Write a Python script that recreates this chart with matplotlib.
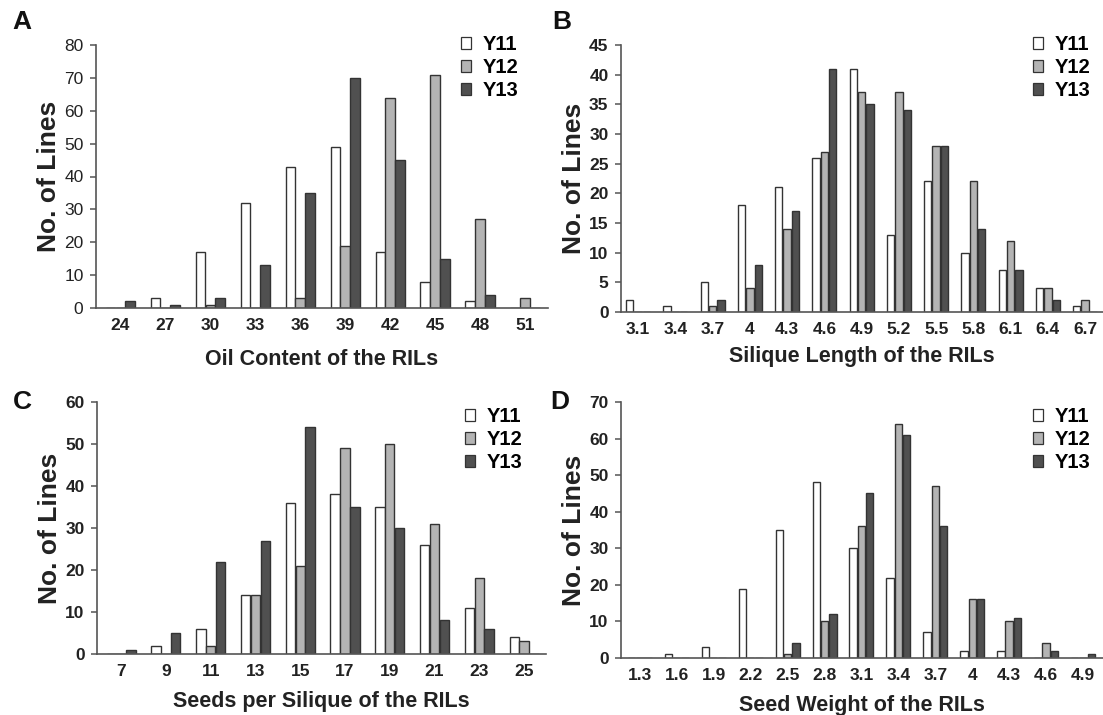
import numpy as np
import matplotlib
matplotlib.use("Agg")
import matplotlib.pyplot as plt
from matplotlib.patches import Patch

plt.rcParams['font.family'] = ['Liberation Sans', 'DejaVu Sans']

# --- data ---
oil_cats = ['24', '27', '30', '33', '36', '39', '42', '45', '48', '51']
oil_y11 = [0, 3, 17, 32, 43, 49, 17, 8, 2, 0]
oil_y12 = [0, 0, 1, 0, 3, 19, 64, 71, 27, 3]
oil_y13 = [2, 1, 3, 13, 35, 70, 45, 15, 4, 0]

len_cats = ['3.1', '3.4', '3.7', '4', '4.3', '4.6', '4.9', '5.2', '5.5', '5.8', '6.1', '6.4', '6.7']
len_y11 = [2, 1, 5, 18, 21, 26, 41, 13, 22, 10, 7, 4, 1]
len_y12 = [0, 0, 1, 4, 14, 27, 37, 37, 28, 22, 12, 4, 2]
len_y13 = [0, 0, 2, 8, 17, 41, 35, 34, 28, 14, 7, 2, 0]

seed_cats = ['7', '9', '11', '13', '15', '17', '19', '21', '23', '25']
seed_y11 = [0, 2, 6, 14, 36, 38, 35, 26, 11, 4]
seed_y12 = [0, 0, 2, 14, 21, 49, 50, 31, 18, 3]
seed_y13 = [1, 5, 22, 27, 54, 35, 30, 8, 6, 0]

wt_cats = ['1.3', '1.6', '1.9', '2.2', '2.5', '2.8', '3.1', '3.4', '3.7', '4', '4.3', '4.6', '4.9']
wt_y11 = [0, 1, 3, 19, 35, 48, 30, 22, 7, 2, 2, 0, 0]
wt_y12 = [0, 0, 0, 0, 1, 10, 36, 64, 47, 16, 10, 4, 0]
wt_y13 = [0, 0, 0, 0, 4, 12, 45, 61, 36, 16, 11, 2, 1]

series_names = ['Y11', 'Y12', 'Y13']
colors = ['white', '#b4b4b4', '#505050']
EDGE = '#333333'

W, H = 1103, 715
fig = plt.figure(figsize=(W / 100, H / 100), dpi=100)


def px_axes(left, right, top, bottom):
    return fig.add_axes([left / W, 1 - bottom / H, (right - left) / W, (bottom - top) / H])


def panel(ax, cats, vals, ymax, ystep, xlim, xlabel, letter, letter_xy, leg_xy,
          width, offset, ybold=True, xpad=9):
    x = np.arange(len(cats))
    for i, v in enumerate(vals):
        ax.bar(x + (i - 1) * offset, v, width, color=colors[i], edgecolor=EDGE,
               linewidth=1.0, zorder=2)
    ax.set_xlim(*xlim)
    ax.set_ylim(0, ymax)
    ax.set_yticks(np.arange(0, ymax + 1, ystep))
    ax.set_xticks(x)
    ax.set_xticklabels(cats)
    for s in ['top', 'right']:
        ax.spines[s].set_visible(False)
    for s in ['left', 'bottom']:
        ax.spines[s].set_color('#555555')
        ax.spines[s].set_linewidth(1.2)
    ax.tick_params(axis='x', length=0, pad=7, labelsize=12.5, labelcolor='#222222')
    ax.tick_params(axis='y', length=4, width=1.1, color='#555555', pad=5,
                   labelsize=12.5, labelcolor='#222222')
    for t in ax.get_xticklabels():
        t.set_fontweight('bold')
    for t in ax.get_yticklabels():
        t.set_fontweight('bold' if ybold else 'normal')
    ax.set_ylabel('No. of Lines', fontsize=19, fontweight='bold', color='#222222', labelpad=2)
    ax.set_xlabel(xlabel, fontsize=15.5, fontweight='bold', color='#222222', labelpad=xpad)
    fig.text(letter_xy[0] / W, 1 - letter_xy[1] / H, letter, fontsize=19,
             fontweight='bold', ha='center', va='center', color='#111111')
    handles = [Patch(facecolor=colors[i], edgecolor=EDGE, linewidth=0.9)
               for i in range(3)]
    fig.legend(handles, series_names, loc='upper left',
               bbox_to_anchor=(leg_xy[0] / W, 1 - leg_xy[1] / H),
               frameon=False, borderpad=0, handlelength=0.5, handleheight=0.5,
               handletextpad=0.55, labelspacing=0.2,
               prop={'size': 14.5, 'weight': 'bold'})


axA = px_axes(96, 548, 45, 308)
panel(axA, oil_cats, [oil_y11, oil_y12, oil_y13], 80, 10, (-0.54, 9.51),
      'Oil Content of the RILs', 'A', (22, 22), (451, 25), 0.21, 0.22,
      ybold=False, xpad=12)

axB = px_axes(621, 1103, 45, 312)
panel(axB, len_cats, [len_y11, len_y12, len_y13], 45, 5, (-0.46, 12.48),
      'Silique Length of the RILs', 'B', (562, 22), (1023, 25), 0.2, 0.225,
      xpad=7)

axC = px_axes(97, 546, 402, 654)
panel(axC, seed_cats, [seed_y11, seed_y12, seed_y13], 60, 10, (-0.54, 9.49),
      'Seeds per Silique of the RILs', 'C', (22, 402), (455, 397), 0.21, 0.22,
      xpad=9)

axD = px_axes(621, 1103, 402, 658)
panel(axD, wt_cats, [wt_y11, wt_y12, wt_y13], 70, 10, (-0.51, 12.54),
      'Seed Weight of the RILs', 'D', (560, 402), (1023, 397), 0.2, 0.225,
      xpad=9)

fig.savefig('out.png', dpi=100)
